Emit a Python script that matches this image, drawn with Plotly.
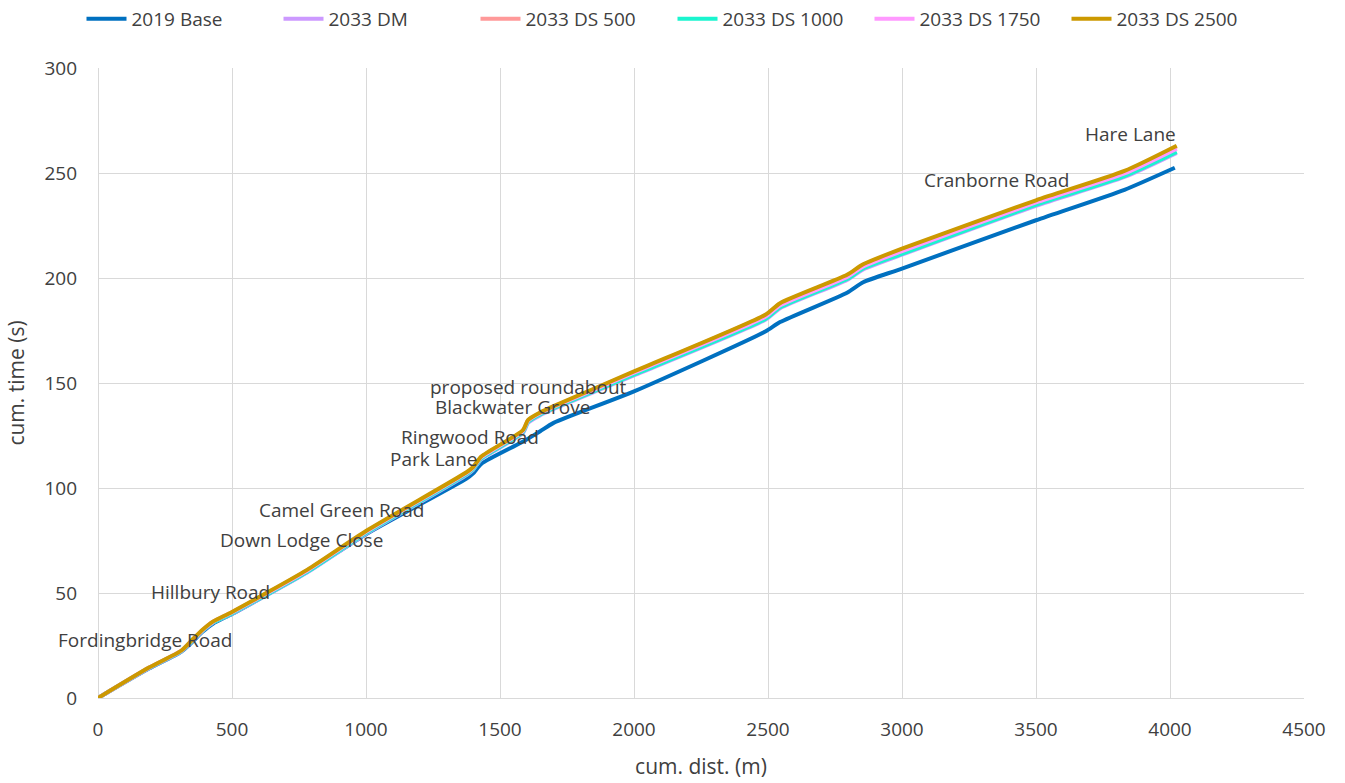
import plotly.graph_objects as go

# cumulative distance along the route (m)
dist = [0, 190, 310, 350, 390, 430, 500, 780, 1000, 1375, 1400, 1430, 1585,
        1605, 1650, 1700, 2000, 2490, 2545, 2795, 2855, 3000, 3500, 3830, 4025]
dist_base = [0, 190, 310, 350, 390, 430, 500, 780, 1000, 1375, 1400, 1430, 1585,
             1605, 1650, 1700, 2000, 2490, 2545, 2795, 2855, 3000, 3500, 3830, 4018]

# cumulative journey time (s) per scenario
t_base = [0, 14, 22, 26.5, 31.5, 35.5, 40, 60, 78, 104.5, 107, 111.5, 122,
          123.5, 127, 131, 146, 174.5, 179, 193, 198, 204.5, 227.5, 242, 252.5]
t_dm = [0, 14.2, 22.1, 26.9, 31.9, 35.9, 40.1, 59.8, 78.2, 106.2, 108.7, 113.7,
        126.1, 131.1, 134.6, 137.6, 153.6, 180.1, 185.6, 199.1, 204.1, 211.1,
        234.4, 248.1, 259.6]
t_ds500 = [0, 14.4, 22.3, 27.3, 32.3, 36.3, 40.8, 60.7, 79.2, 107.2, 109.7,
           114.7, 127.2, 132.2, 135.7, 138.7, 155.2, 182.2, 187.7, 201.2, 206.2,
           213.6, 236.6, 250.6, 262.6]
t_ds1000 = [0, 14.3, 22.2, 27, 32, 36, 40.3, 60, 78.5, 106.5, 109, 114, 126.5,
            131.5, 135, 138, 154, 180.5, 186, 199.5, 204.5, 211.5, 234.8, 248.5,
            260]
t_ds1750 = [0, 14.4, 22.4, 27.3, 32.3, 36.3, 40.7, 60.6, 79.1, 107.1, 109.6,
            114.6, 127.1, 132.1, 135.6, 138.6, 154.9, 181.5, 187, 200.5, 205.5,
            212.8, 236, 249.8, 261.6]
t_ds2500 = [0, 14.5, 22.5, 27.5, 32.5, 36.5, 41, 61, 79.5, 107.5, 110, 115, 127.5,
            132.5, 136, 139, 155.5, 182.5, 188, 201.5, 206.5, 214, 237, 251, 263]

# junction labels and where they sit (m, s)
junctions = ["Fordingbridge Road", "Hillbury Road", "Down Lodge Close",
             "Camel Green Road", "Park Lane", "Ringwood Road", "Blackwater Grove",
             "proposed roundabout", "Cranborne Road", "Hare Lane"]
junction_x = [175, 418, 761, 910, 1250, 1388, 1545, 1608, 3354, 3854]
junction_y = [27.6, 50.5, 75.2, 89.5, 113.8, 124.3, 138.6, 148, 246.7, 268.6]

series = [
    ("2019 Base", dist_base, t_base, "#0070C0"),
    ("2033 DM", dist, t_dm, "#CC99FF"),
    ("2033 DS 500", dist, t_ds500, "#FF9999"),
    ("2033 DS 1000", dist, t_ds1000, "#1AF5CF"),
    ("2033 DS 1750", dist, t_ds1750, "#FF99FF"),
    ("2033 DS 2500", dist, t_ds2500, "#CC9900"),
]

FONT = "Open Sans"
TXT = "#404040"

fig = go.Figure()
for name, xs, ys, col in series:
    fig.add_trace(go.Scatter(
        x=xs, y=ys, name=name, mode="lines",
        line=dict(color=col, width=4, shape="spline", smoothing=0.6),
    ))

for label, xv, yv in zip(junctions, junction_x, junction_y):
    fig.add_annotation(x=xv, y=yv, text=label, showarrow=False,
                       font=dict(family=FONT, size=19, color=TXT),
                       xanchor="center", yanchor="middle")

axis_common = dict(showgrid=True, gridcolor="#D9D9D9", gridwidth=1,
                   zeroline=True, zerolinecolor="#D9D9D9", zerolinewidth=1,
                   showline=False, ticks="",
                   tickfont=dict(family=FONT, size=19, color=TXT))

fig.update_layout(
    width=1345, height=783,
    margin=dict(l=98, r=41, t=68, b=85, autoexpand=False),
    paper_bgcolor="white", plot_bgcolor="white",
    font=dict(family=FONT, color=TXT),
    xaxis=dict(range=[0, 4500], dtick=500, ticklabelstandoff=18,
               title=dict(text="cum. dist. (m)", font=dict(family=FONT, size=21, color=TXT),
                          standoff=18),
               **axis_common),
    yaxis=dict(range=[0, 300], dtick=50, ticklabelstandoff=20,
               title=dict(text="cum. time (s)", font=dict(family=FONT, size=21, color=TXT),
                          standoff=14),
               **axis_common),
    legend=dict(orientation="h", xref="container", yref="container",
                x=0.5, xanchor="center", y=1.0, yanchor="top",
                font=dict(family=FONT, size=19, color=TXT),
                itemwidth=40, entrywidth=142, entrywidthmode="pixels",
                tracegroupgap=0, bgcolor="rgba(0,0,0,0)"),
    showlegend=True,
)

fig.write_html("out.html")
